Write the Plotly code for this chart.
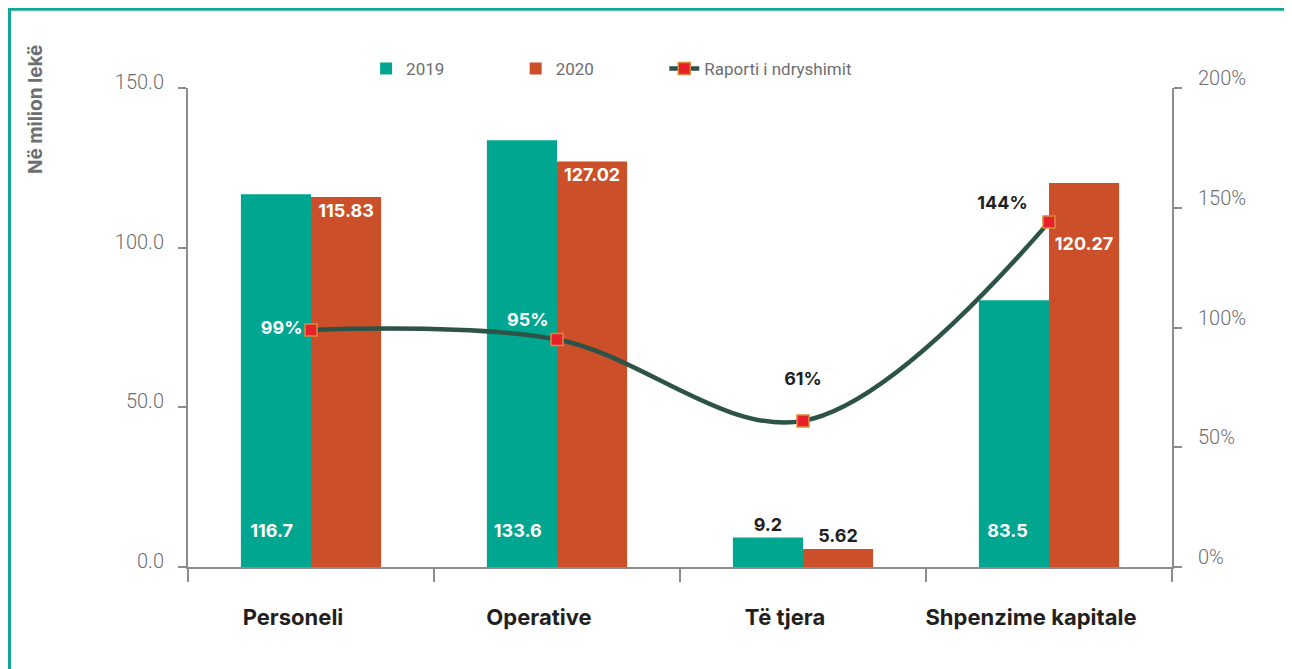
import plotly.graph_objects as go

categories = ["Personeli", "Operative", "Të tjera", "Shpenzime kapitale"]
values_2019 = [116.7, 133.6, 9.2, 83.5]
values_2020 = [115.83, 127.02, 5.62, 120.27]
change_ratio = [0.99, 0.95, 0.61, 1.44]
labels_2019 = ["116.7\u00a0\u00a0<br>\u00a0", "133.6\u00a0\u00a0<br>\u00a0", "9.2",
               "83.5\u00a0\u00a0\u00a0<br>\u00a0"]
labels_2020 = ["115.83", "127.02", "5.62", "\u00a0<br>\u00a0<br>120.27"]
labels_ratio = ["99%", "95%", "61%<br>\u00a0", "144%\u00a0\u00a0\u00a0"]

TEAL = "#00a68f"
ORANGE = "#cb5029"
LINE_GREEN = "#2d5248"
AXIS_GREY = "#8c8c8c"
TICK_GREY = "#6d6e71"
DARK = "#231f20"
THIN = "Roboto, Lato, Liberation Sans"
BOLD = "Inter, Roboto, Noto Sans"

fig = go.Figure()

fig.add_trace(
    go.Bar(
        x=categories,
        y=values_2019,
        name="2019",
        legend="legend",
        marker=dict(color=TEAL, line=dict(width=0)),
        text=labels_2019,
        textposition=["inside", "inside", "outside", "inside"],
        insidetextanchor="start",
        textfont=dict(family=BOLD, size=18, color="white", weight="bold"),
        outsidetextfont=dict(family=BOLD, size=18, color=DARK, weight="bold"),
        cliponaxis=False,
    )
)
fig.add_trace(
    go.Bar(
        x=categories,
        y=values_2020,
        name="2020",
        legend="legend2",
        marker=dict(color=ORANGE, line=dict(width=0)),
        text=labels_2020,
        textposition=["inside", "inside", "outside", "inside"],
        insidetextanchor="end",
        textfont=dict(family=BOLD, size=18, color="white", weight="bold"),
        outsidetextfont=dict(family=BOLD, size=18, color=DARK, weight="bold"),
        cliponaxis=False,
    )
)
fig.add_trace(
    go.Scatter(
        x=categories,
        y=change_ratio,
        name="Raporti i ndryshimit",
        legend="legend3",
        yaxis="y2",
        mode="lines+markers+text",
        line=dict(color=LINE_GREEN, width=4.5, shape="spline", smoothing=1.0),
        marker=dict(symbol="square", size=12, color="#e8202a",
                    line=dict(color="#d98a3e", width=1.5)),
        text=labels_ratio,
        textposition=["middle left", "top left", "top center", "top left"],
        textfont=dict(family=BOLD, size=18, weight="bold",
                      color=["white", "white", DARK, DARK]),
        cliponaxis=False,
    )
)

axis_common = dict(showline=True, linecolor=AXIS_GREY, linewidth=2,
                   tickcolor=AXIS_GREY, tickwidth=2, showgrid=False,
                   zeroline=False)

legend_common = dict(
    orientation="h",
    xanchor="left",
    y=1.04, yanchor="middle",
    itemwidth=30,
    font=dict(family=THIN, size=17, color=TICK_GREY),
    bgcolor="rgba(0,0,0,0)",
)

fig.update_layout(
    width=1284,
    height=661,
    margin=dict(l=180, r=120, t=80, b=102),
    paper_bgcolor="white",
    plot_bgcolor="white",
    barmode="group",
    bargap=0.43,
    bargroupgap=0,
    showlegend=True,
    legend=dict(**legend_common, x=0.181),
    legend2=dict(**legend_common, x=0.333),
    legend3=dict(**legend_common, x=0.484),
    xaxis=dict(
        **axis_common,
        type="category",
        categoryorder="array",
        categoryarray=categories,
        ticks="outside",
        ticklen=13,
        tickson="boundaries",
        ticklabelstandoff=30,
        ticklabelshift=-18,
        tickfont=dict(family=BOLD, size=22, color=DARK, weight="bold"),
    ),
    xaxis2=dict(
        **axis_common,
        type="category",
        categoryorder="array",
        categoryarray=categories,
        matches="x",
        overlaying="x",
        anchor="y",
        ticks="inside",
        ticklen=12,
        tickson="boundaries",
        showticklabels=False,
    ),
    yaxis=dict(
        **axis_common,
        range=[0, 150],
        dtick=50,
        tickformat=".1f",
        ticks="outside",
        ticklen=8,
        ticklabelshift=-6,
        ticklabelstandoff=10,
        tickfont=dict(family=THIN, size=20, color=TICK_GREY, weight=300),
    ),
    yaxis2=dict(
        **axis_common,
        range=[0, 2],
        dtick=0.5,
        tickformat=".0%",
        overlaying="y",
        side="right",
        anchor="x",
        ticks="outside",
        ticklen=8,
        ticklabelshift=-10,
        ticklabelstandoff=12,
        tickfont=dict(family=THIN, size=20, color=TICK_GREY, weight=300),
    ),
    yaxis3=dict(
        **axis_common,
        range=[0, 150],
        dtick=50,
        overlaying="y",
        side="left",
        anchor="x",
        ticks="inside",
        ticklen=10,
        showticklabels=False,
    ),
    yaxis4=dict(
        **axis_common,
        range=[0, 2],
        dtick=0.5,
        overlaying="y",
        side="right",
        anchor="x",
        ticks="inside",
        ticklen=8,
        showticklabels=False,
    ),
)

fig.add_annotation(
    text="<b>Në milion lekë</b>",
    xref="paper", yref="paper",
    x=-0.1555, y=0.956,
    xanchor="center", yanchor="middle",
    textangle=-90,
    showarrow=False,
    font=dict(family=BOLD, size=19, color=TICK_GREY),
)

# teal frame (left and top, light line on the right)
fig.add_shape(type="line", xref="paper", yref="paper",
              x0=-0.1814, x1=-0.1814, y0=-0.22, y1=1.168,
              line=dict(color="#12a994", width=3))
fig.add_shape(type="line", xref="paper", yref="paper",
              x0=-0.183, x1=1.125, y0=1.1645, y1=1.1645,
              line=dict(color="#12a994", width=3))
fig.add_shape(type="line", xref="paper", yref="paper",
              x0=1.1205, x1=1.1205, y0=-0.22, y1=1.163,
              line=dict(color="#bfe6df", width=1.5))

fig.write_html("out.html")
